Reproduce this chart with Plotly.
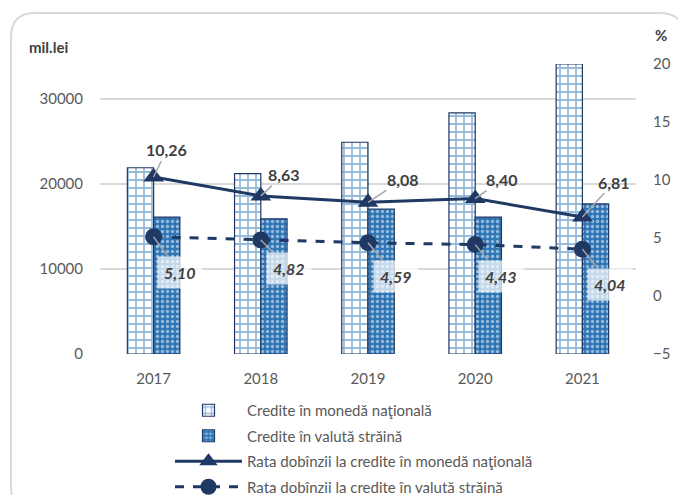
import plotly.graph_objects as go

years = ["2017", "2018", "2019", "2020", "2021"]
credit_national = [21900, 21200, 24900, 28350, 34100]
credit_foreign = [16100, 15900, 17050, 16100, 17650]
rate_national = [10.26, 8.63, 8.08, 8.40, 6.81]
rate_foreign = [5.10, 4.82, 4.59, 4.43, 4.04]

names = [
    "Credite în monedă naţională",
    "Credite în valută străină",
    "Rata dobînzii la credite în monedă naţională",
    "Rata dobînzii la credite în valută străină",
]

# label offsets (px) for data labels
off_nat = [(13, -27), (23, -21), (35, -23), (27, -19), (32, -35)]
off_for = [(26, 36), (28, 28), (28, 34), (26, 32), (28, 35)]

FONT = "Lato"
NAVY = "#1f3864"
BLUE = "#2e75b6"
GRAY_TXT = "#595959"

fig = go.Figure()
fig.add_trace(go.Bar(
    x=years, y=credit_national, name=names[0],
    marker=dict(color="white", line=dict(color=NAVY, width=1.2),
                pattern=dict(shape="+", fgcolor=BLUE, bgcolor="white",
                             size=8, solidity=0.4)),
))
fig.add_trace(go.Bar(
    x=years, y=credit_foreign, name=names[1],
    marker=dict(color=BLUE, line=dict(color=NAVY, width=1.2),
                pattern=dict(shape=".", fgcolor="white", bgcolor=BLUE,
                             size=5, solidity=0.35)),
))
fig.add_trace(go.Scatter(
    x=years, y=rate_national, name=names[2], yaxis="y2",
    mode="lines+markers",
    line=dict(color=NAVY, width=3),
    marker=dict(symbol="triangle-up", size=18, color=NAVY),
))
fig.add_trace(go.Scatter(
    x=years, y=rate_foreign, name=names[3], yaxis="y2",
    mode="lines+markers",
    line=dict(color=NAVY, width=3, dash="dash"),
    marker=dict(symbol="circle", size=17, color=NAVY),
))

def fmt(v):
    return f"{v:.2f}".replace(".", ",")

ann = []
for i, (v, (ax, ay)) in enumerate(zip(rate_national, off_nat)):
    ann.append(dict(x=i, y=v, xref="x", yref="y2", text=f"<b>{fmt(v)}</b>",
                    showarrow=True, arrowhead=0, arrowcolor="#a6a6a6", arrowwidth=1.5,
                    ax=ax, ay=ay, standoff=0,
                    font=dict(family=FONT, size=16, color="#404040")))
for i, (v, (ax, ay)) in enumerate(zip(rate_foreign, off_for)):
    ann.append(dict(x=i, y=v, xref="x", yref="y2", text=f"<b><i>{fmt(v)}</i></b>",
                    showarrow=True, arrowhead=0, arrowcolor="#a6a6a6", arrowwidth=1.5,
                    ax=ax, ay=ay, standoff=0, bgcolor="rgba(255,255,255,0.72)", borderpad=6,
                    font=dict(family=FONT, size=16, color="#404040")))

# axis titles
ann.append(dict(xref="paper", yref="paper", x=(27 - 100) / 536, y=(354 - 47) / 290,
                xanchor="left", yanchor="middle", showarrow=False, text="<b>mil.lei</b>",
                font=dict(family=FONT, size=15, color="#404040")))
ann.append(dict(xref="paper", yref="paper", x=(661 - 100) / 536, y=(354 - 35) / 290,
                xanchor="center", yanchor="middle", showarrow=False, text="<b>%</b>",
                font=dict(family=FONT, size=15, color="#404040")))

# rounded frame (paper coords)
def px(xp):
    return (xp - 100) / 536
def py(yp):
    return (354 - yp) / 290
L, T, R, B, r = 11, 13, 684, 512, 24
path = (f"M {px(L)},{py(T + r)} Q {px(L)},{py(T)} {px(L + r)},{py(T)} "
        f"L {px(R - r)},{py(T)} Q {px(R)},{py(T)} {px(R)},{py(T + r)} "
        f"L {px(R)},{py(B - r)} Q {px(R)},{py(B)} {px(R - r)},{py(B)} "
        f"L {px(L + r)},{py(B)} Q {px(L)},{py(B)} {px(L)},{py(B - r)} Z")

fig.update_layout(
    width=678, height=495,
    margin=dict(l=100, r=42, t=64, b=141, autoexpand=False),
    paper_bgcolor="white", plot_bgcolor="white",
    font=dict(family=FONT, size=15, color=GRAY_TXT),
    barmode="group", bargap=0.51, bargroupgap=0,
    showlegend=True,
    legend=dict(x=(170 - 100) / 536, y=(354 - 394) / 290, xanchor="left", yanchor="top",
                font=dict(family=FONT, size=15, color=GRAY_TXT),
                itemwidth=67, tracegroupgap=3, bgcolor="rgba(0,0,0,0)"),
    xaxis=dict(type="category", showgrid=False, showline=False, ticks="",
               range=[-0.5, 4.5], ticklabelstandoff=14, tickfont=dict(size=15, color=GRAY_TXT)),
    yaxis=dict(range=[0, 34100], tickvals=[0, 10000, 20000, 30000], tickformat="d",
               showgrid=True, gridcolor="#d9d9d9", gridwidth=1.5, zeroline=False,
               showline=False, ticks="", ticklabelstandoff=16,
               tickfont=dict(size=15, color=GRAY_TXT)),
    yaxis2=dict(range=[-5, 20], tickvals=[-5, 0, 5, 10, 15, 20], overlaying="y", side="right",
                showgrid=False, zeroline=False, showline=False, ticks="",
                ticklabelstandoff=16, tickfont=dict(size=15, color=GRAY_TXT)),
    annotations=ann,
    shapes=[dict(type="path", xref="paper", yref="paper", path=path,
                 line=dict(color="#d9d9d9", width=2), layer="below")],
)
for i, tr in enumerate(fig.data):
    tr.legendgroup = f"g{i}"

fig.write_html("out.html", config={"displayModeBar": False},
               post_script="document.body.style.margin='0';document.body.style.overflow='hidden';")
